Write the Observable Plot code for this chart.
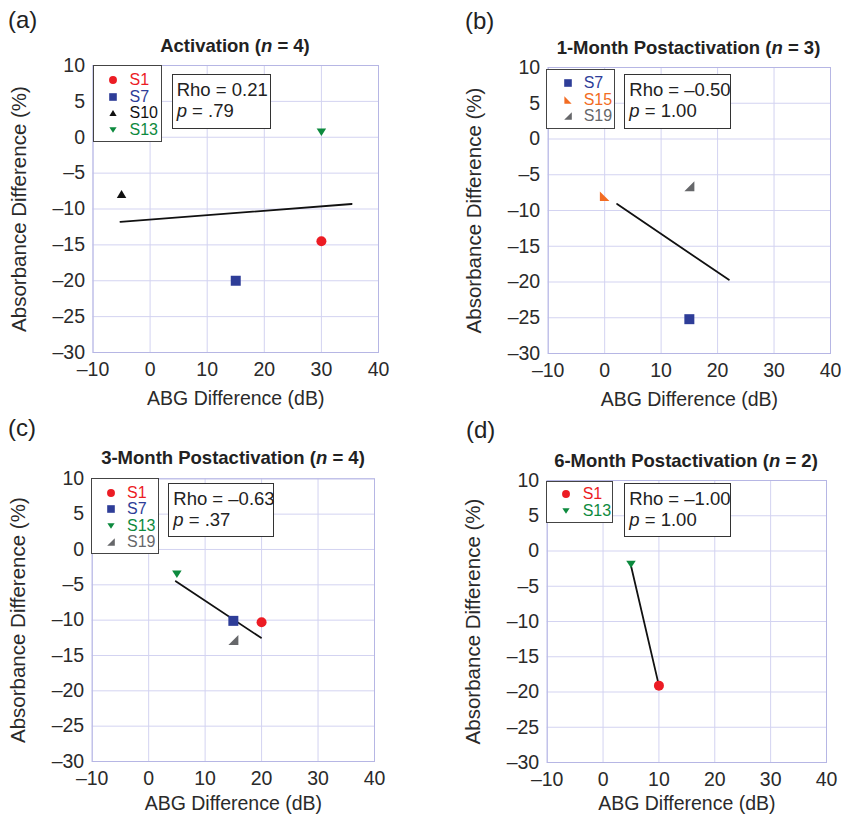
<!DOCTYPE html>
<html>
<head>
<meta charset="utf-8">
<script src="https://cdn.jsdelivr.net/npm/d3@7"></script>
<script src="https://cdn.jsdelivr.net/npm/@observablehq/plot@0.6"></script>
<style>
  body { margin: 0; background: #fff; }
  #chart { position: relative; width: 841px; height: 814px; overflow: hidden;
           font-family: "Liberation Sans", Arial, Helvetica, sans-serif; color: #222; }
  .panel { position: absolute; }
  .letter { position: absolute; font-size: 24px; line-height: 1; }
  .title { position: absolute; font-weight: bold; font-size: 18.5px; line-height: 1;
           transform: translate(-50%, -50%); white-space: nowrap; }
  .legend { position: absolute; border: 1px solid #444; background: #fff; box-sizing: border-box; font-size: 16px; }
  .legend .row { position: absolute; left: 0; right: 0; height: 16px; line-height: 16px; }
  .legend svg { position: absolute; top: 0; }
  .legend span { position: absolute; top: 0; }
  .stats { position: absolute; border: 1.3px solid #333; background: #fff; box-sizing: border-box;
           font-size: 18.5px; line-height: 21px; padding: 4px 0 0 4px; white-space: nowrap; }
</style>
</head>
<body>
<div id="chart"></div>
<script>
// ---------- data ----------
const xTicks = [-10, 0, 10, 20, 30, 40];
const yTicks = [10, 5, 0, -5, -10, -15, -20, -25, -30];

const subjectIds = ["S1", "S7", "S10", "S13", "S15", "S19"];
const subjectColors = ["#ec1c24", "#2e3d98", "#111111", "#0d8a3e", "#f26c23", "#66676a"];
const subjectSymbols = ["circle", "square", "triangleUp", "triangleDown", "cornerBL", "cornerBR"];

const panelLetters = ["(a)", "(b)", "(c)", "(d)"];
const panelTitles = ["Activation", "1-Month Postactivation", "3-Month Postactivation", "6-Month Postactivation"];
const panelN = [4, 3, 4, 2];
const panelRho = ["0.21", "–0.50", "–0.63", "–1.00"];
const panelP = [".79", "1.00", ".37", "1.00"];

// (a) Activation
const actSubjects = ["S1", "S7", "S10", "S13"];
const actABG = [30, 15, -5, 30];
const actAbs = [-14.5, -20, -7.9, 0.7];
const actFitABG = [-5.2, 35.3];
const actFitAbs = [-11.8, -9.3];

// (b) 1-Month Postactivation
const m1Subjects = ["S7", "S15", "S19"];
const m1ABG = [15, 0, 15];
const m1Abs = [-25.2, -8, -6.6];
const m1FitABG = [2.2, 22];
const m1FitAbs = [-9.1, -19.7];

// (c) 3-Month Postactivation
const m3Subjects = ["S1", "S7", "S13", "S19"];
const m3ABG = [20, 15, 5, 15];
const m3Abs = [-10.3, -10.1, -3.5, -12.8];
const m3FitABG = [4.8, 19.9];
const m3FitAbs = [-4.5, -12.5];

// (d) 6-Month Postactivation
const m6Subjects = ["S1", "S13"];
const m6ABG = [10, 5];
const m6Abs = [-19.1, -1.9];
const m6FitABG = [5, 10];
const m6FitAbs = [-2.1, -19.1];

// ---------- symbols ----------
const symbolTypes = {
  circle: {draw(ctx, size) { const r = Math.sqrt(size) * 0.5; ctx.moveTo(r, 0); ctx.arc(0, 0, r, 0, 2 * Math.PI); }},
  square: {draw(ctx, size) { const a = Math.sqrt(size) * 0.5; ctx.rect(-a, -a, 2 * a, 2 * a); }},
  triangleUp: {draw(ctx, size) { const k = Math.sqrt(size), w = 0.95 * k, h = 0.8 * k;
    ctx.moveTo(0, -h / 2); ctx.lineTo(w / 2, h / 2); ctx.lineTo(-w / 2, h / 2); ctx.closePath(); }},
  triangleDown: {draw(ctx, size) { const k = Math.sqrt(size), w = 0.95 * k, h = 0.74 * k;
    ctx.moveTo(0, h / 2); ctx.lineTo(w / 2, -h / 2); ctx.lineTo(-w / 2, -h / 2); ctx.closePath(); }},
  cornerBL: {draw(ctx, size) { const a = Math.sqrt(size) * 0.48;
    ctx.moveTo(-a, -a); ctx.lineTo(a, a); ctx.lineTo(-a, a); ctx.closePath(); }},
  cornerBR: {draw(ctx, size) { const a = Math.sqrt(size) * 0.5;
    ctx.moveTo(a, -a); ctx.lineTo(a, a); ctx.lineTo(-a, a); ctx.closePath(); }}
};
function subjectStyle(id) {
  const i = subjectIds.indexOf(id);
  return {color: subjectColors[i], symbol: symbolTypes[subjectSymbols[i]]};
}
function symbolPath(sym, size) { const p = d3.path(); sym.draw(p, size); return p.toString(); }

const fmt = d => d < 0 ? "–" + Math.abs(d) : String(d);

// ---------- layout (pixels) ----------
const layouts = [
  {left: 0,   top: 0,   width: 420, height: 410, mL: 92.5,  mR: 42,  mT: 65,   mB: 58, xLab: 52,
   letter: [8, 8], title: [235, 45.5], legend: [92.5, 65, 69, 77, 6, 19, 36], stats: [171.7, 74, 99, 55]},
  {left: 420, top: 0,   width: 421, height: 410, mL: 127.7, mR: 11,  mT: 67,   mB: 57, xLab: 52,
   letter: [465, 9], title: [688.5, 48], legend: [546, 69.3, 69, 60, 5, 20.7, 36.7], stats: [624.3, 74, 106.4, 55]},
  {left: 0,   top: 410, width: 420, height: 404, mL: 91.7,  mR: 46,  mT: 68.3, mB: 53, xLab: 48,
   letter: [8, 416], title: [233, 458], legend: [90.7, 477.7, 68.3, 76.3, 6, 19.3, 35.3], stats: [168.3, 482.7, 106, 54]},
  {left: 420, top: 410, width: 421, height: 404, mL: 126.7, mR: 15,  mT: 70,   mB: 52, xLab: 47,
   letter: [466, 418], title: [686, 461], legend: [546, 480.7, 67.3, 42, 4.5, 19, 35.7], stats: [624.3, 482.7, 106.4, 54]}
];

const panels = [
  {subjects: actSubjects, abg: actABG, abs: actAbs, fitX: actFitABG, fitY: actFitAbs},
  {subjects: m1Subjects, abg: m1ABG, abs: m1Abs, fitX: m1FitABG, fitY: m1FitAbs},
  {subjects: m3Subjects, abg: m3ABG, abs: m3Abs, fitX: m3FitABG, fitY: m3FitAbs},
  {subjects: m6Subjects, abg: m6ABG, abs: m6Abs, fitX: m6FitABG, fitY: m6FitAbs}
];

const chart = document.getElementById("chart");
const gridColor = "#d3d3f1";
const frameColor = "#b6b6e4";
const fontFam = '"Liberation Sans", Arial, Helvetica, sans-serif';

panels.forEach((p, k) => {
  const L = layouts[k];
  const points = p.subjects.map((s, i) => ({subject: s, x: p.abg[i], y: p.abs[i]}));
  const fit = p.fitX.map((x, i) => ({x, y: p.fitY[i]}));

  const dotMarks = points.map(d => {
    const st = subjectStyle(d.subject);
    return Plot.dot([d], {x: "x", y: "y", symbol: st.symbol, fill: st.color, stroke: "none", r: 5.64});
  });

  const svg = Plot.plot({
    width: L.width, height: L.height,
    marginLeft: L.mL, marginRight: L.mR, marginTop: L.mT, marginBottom: L.mB,
    style: {fontFamily: fontFam, fontSize: "19.5px", color: "#2a2a2a", background: "transparent", overflow: "visible"},
    x: {domain: [-10, 40], axis: null},
    y: {domain: [-30, 10], axis: null},
    marks: [
      Plot.gridX(xTicks, {stroke: gridColor, strokeOpacity: 1, strokeWidth: 1}),
      Plot.gridY(yTicks, {stroke: gridColor, strokeOpacity: 1, strokeWidth: 1}),
      Plot.frame({stroke: frameColor, strokeWidth: 1}),
      Plot.axisX(xTicks, {tickFormat: fmt, tickSize: 0, tickPadding: 10, fontSize: 19.5,
        label: "ABG Difference (dB)", labelAnchor: "center", labelOffset: L.xLab, labelArrow: "none"}),
      Plot.axisY(yTicks, {tickFormat: fmt, tickSize: 0, tickPadding: 8, fontSize: 19.5, label: null}),
      Plot.axisY([], {tickSize: 0, fontSize: 20.5,
        label: "Absorbance Difference (%)", labelAnchor: "center", labelOffset: 82, labelArrow: "none"}),
      Plot.line(fit, {x: "x", y: "y", stroke: "#111", strokeWidth: 1.8}),
      ...dotMarks
    ]
  });
  svg.classList.add("panel");
  svg.style.left = L.left + "px";
  svg.style.top = L.top + "px";
  chart.appendChild(svg);

  // panel letter
  const letter = document.createElement("div");
  letter.className = "letter";
  letter.style.left = L.letter[0] + "px";
  letter.style.top = L.letter[1] + "px";
  letter.textContent = panelLetters[k];
  chart.appendChild(letter);

  // title
  const title = document.createElement("div");
  title.className = "title";
  title.style.left = L.title[0] + "px";
  title.style.top = L.title[1] + "px";
  title.innerHTML = `${panelTitles[k]} (<i>n</i> = ${panelN[k]})`;
  chart.appendChild(title);

  // legend
  const [lx, ly, lw, lh, lpad, symX, textX] = L.legend;
  const lg = document.createElement("div");
  lg.className = "legend";
  Object.assign(lg.style, {left: lx + "px", top: ly + "px", width: lw + "px", height: lh + "px"});
  p.subjects.forEach((s, i) => {
    const st = subjectStyle(s);
    const row = document.createElement("div");
    row.className = "row";
    row.style.top = (lpad + i * 16.6) + "px";
    const sz = s === "S1" ? 62 : 58;
    row.innerHTML = `<svg width="14" height="16" style="left:${symX - 7}px" viewBox="-7 -8 14 16">` +
      `<path d="${symbolPath(st.symbol, sz)}" fill="${st.color}"/></svg>` +
      `<span style="left:${textX}px;color:${st.color}">${s}</span>`;
    lg.appendChild(row);
  });
  chart.appendChild(lg);

  // stats box
  const [sx, sy, sw, sh] = L.stats;
  const sb = document.createElement("div");
  sb.className = "stats";
  Object.assign(sb.style, {left: sx + "px", top: sy + "px", width: sw + "px", height: sh + "px"});
  sb.innerHTML = `Rho = ${panelRho[k]}<br><i>p</i> = ${panelP[k]}`;
  chart.appendChild(sb);
});
</script>
</body>
</html>
